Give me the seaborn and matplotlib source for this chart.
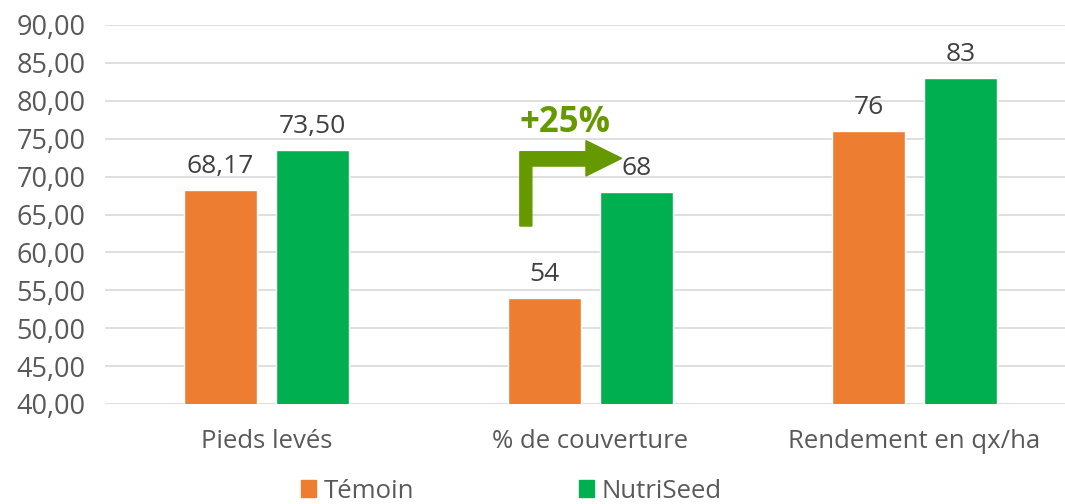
import pandas as pd
import matplotlib.pyplot as plt
import seaborn as sns
from matplotlib.patches import Polygon

# données
categories = ['Pieds levés', '% de couverture', 'Rendement en qx/ha']
temoin = [68.17, 54, 76]
nutriseed = [73.50, 68, 83]
labels_temoin = ['68,17', '54', '76']
labels_nutriseed = ['73,50', '68', '83']
series = ['Témoin', 'NutriSeed']
yticks = [40, 45, 50, 55, 60, 65, 70, 75, 80, 85, 90]

df = pd.DataFrame({
    'categorie': categories * 2,
    'valeur': temoin + nutriseed,
    'serie': [series[0]] * 3 + [series[1]] * 3,
})

sns.set_style('white')
plt.rcParams['font.family'] = ['Open Sans', 'DejaVu Sans']

fig = plt.figure(figsize=(10.65, 5.04), dpi=100)
ax = fig.add_axes([105 / 1065, 1 - 404 / 504, 960 / 1065, 379 / 504])

sns.barplot(data=df, x='categorie', y='valeur', hue='serie',
            palette=['#ED7D31', '#00B050'], saturation=1, width=0.568,
            gap=0.208, ax=ax, legend=False)

ax.set_ylim(40, 90)
ax.set_yticks(yticks)
ax.set_yticklabels([f'{v:.2f}'.replace('.', ',') for v in yticks])
ax.set_xlim(-0.498, 2.464)
ax.grid(axis='y', color='#d9d9d9', linewidth=1.2)
ax.set_axisbelow(True)
for s in ax.spines.values():
    s.set_visible(False)
ax.set_xlabel('')
ax.set_ylabel('')
ax.tick_params(axis='both', length=0, colors='#595959')
ax.tick_params(axis='x', labelsize=18.5, pad=18)
ax.tick_params(axis='y', labelsize=19.5, pad=14)

ax.bar_label(ax.containers[0], labels=labels_temoin, padding=8,
             fontsize=19, color='#404040')
ax.bar_label(ax.containers[1], labels=labels_nutriseed, padding=8,
             fontsize=19, color='#404040')

# flèche +25%
arrow = Polygon([(0.782, 63.48), (0.819, 63.48), (0.819, 71.39), (0.986, 71.39),
                 (0.986, 70.08), (1.096, 72.41), (0.986, 74.74), (0.986, 73.28),
                 (0.782, 73.28)], closed=True, color='#669900', zorder=5)
ax.add_patch(arrow)
ax.text(0.921, 77.07, '+25%', ha='center', va='center', fontsize=25,
        fontweight='bold', color='#669900')

handles = [plt.Rectangle((0, 0), 1, 1, color=c) for c in ['#ED7D31', '#00B050']]
fig.legend(handles, series, loc='lower center', bbox_to_anchor=(0.48, -0.045),
           ncol=2, frameon=False, fontsize=18.5, handlelength=0.6,
           handleheight=0.6, handletextpad=0.3, columnspacing=6.4,
           labelcolor='#595959')

fig.savefig('out.png', dpi=100)
